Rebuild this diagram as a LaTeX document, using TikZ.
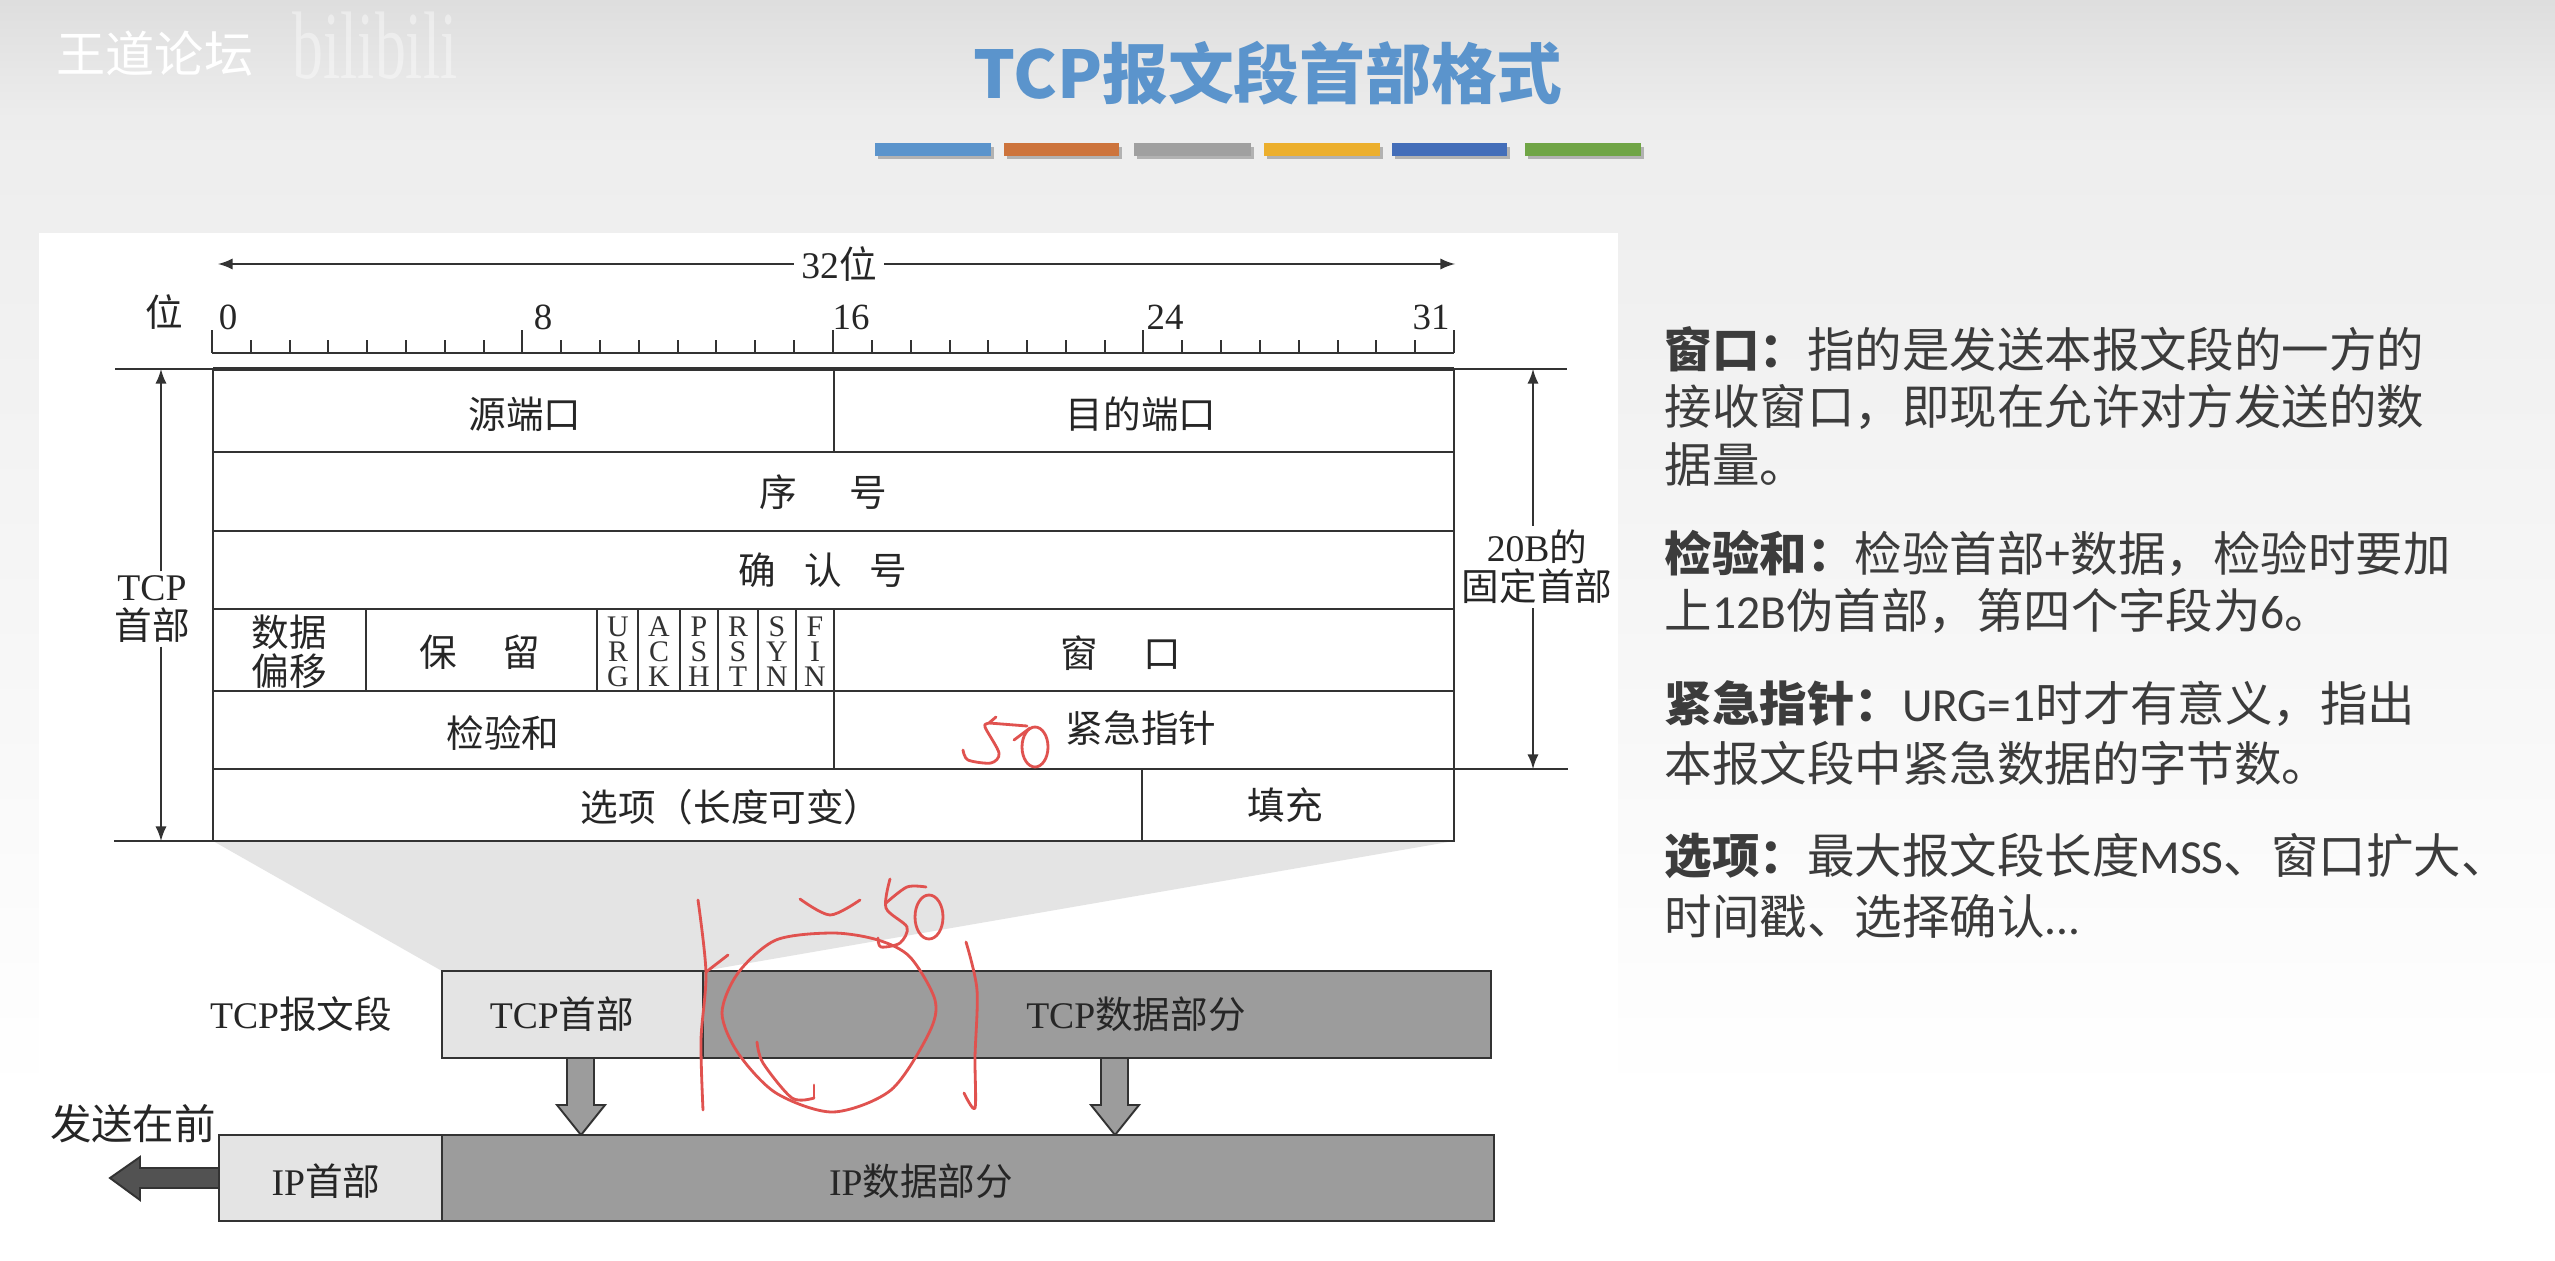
\documentclass[tikz,border=0pt]{standalone}
\usepackage{fontspec}
\usepackage{graphicx}
\setmainfont{Liberation Serif}
\newfontfamily\cjk{Noto Sans CJK SC}
\newfontfamily\slidefont{Carlito}
\definecolor{linegray}{HTML}{333333}
\definecolor{lightcell}{HTML}{E4E4E4}
\definecolor{darkcell}{HTML}{9C9C9C}
\definecolor{titleblue}{HTML}{5B94CC}
\definecolor{slidetext}{HTML}{3C3C3C}
\definecolor{penred}{HTML}{E0524F}
\tikzset{
  thick line/.style={draw=linegray,line width=.8pt},
  thin line/.style={draw=linegray,line width=.55pt},
  dim line/.style={draw=linegray,line width=.45pt,>=latex},
  fig text/.style={text=black!85,inner sep=1pt,align=center,font=\fontsize{10.7}{11}\selectfont},
  flag text/.style={text=black!80,inner sep=0pt,align=center,font=\fontsize{8.5}{7.1}\selectfont},
  ruler text/.style={text=black!85,inner sep=0pt,font=\fontsize{10.5}{11}\selectfont},
  note text/.style={text=slidetext,anchor=west,inner sep=0pt,font=\fontsize{13.5}{16}\cjk},
  pen/.style={draw=penred,line width=.8pt,line cap=round,line join=round},
  bar/.style={line width=0pt,draw=none}
}
\begin{document}
\begin{tikzpicture}[x=.01cm,y=-.01cm]
\useasboundingbox (0,0) rectangle (2555,1261);
% slide background
\shade[top color=black!13,bottom color=black!7] (0,0) rectangle (2555,120);
\shade[top color=black!7,bottom color=white] (0,120) rectangle (2555,1100);
\fill[white] (0,1100) rectangle (2555,1261);
\fill[white] (39,233) rectangle (1618,1261);
% watermark
\node[text=white,inner sep=0pt,font=\fontsize{14}{16}\cjk] (forum) at (155,54) {王道论坛};
\node[text=white,opacity=.4,inner sep=0pt,font=\fontsize{13}{14}\selectfont] (logo) at (375,46) {\scalebox{1.35}[2.1]{bilibili}};
% title and colour bars
\node[text=titleblue,inner sep=0pt,font=\fontsize{18.7}{22}\cjk\bfseries] (title) at (1268,73) {TCP报文段首部格式};
\fill[black!30] (878,147) rectangle (994,159);
\fill[black!30] (1007,147) rectangle (1122,159);
\fill[black!30] (1137,147) rectangle (1254,159);
\fill[black!30] (1267,147) rectangle (1383,159);
\fill[black!30] (1395,147) rectangle (1510,159);
\fill[black!30] (1528,147) rectangle (1644,159);
\draw[bar,fill=titleblue] (875,143) rectangle (991,156);
\draw[bar,fill={rgb,255:red,205;green,116;blue,60}] (1004,143) rectangle (1119,156);
\draw[bar,fill={rgb,255:red,160;green,160;blue,160}] (1134,143) rectangle (1251,156);
\draw[bar,fill={rgb,255:red,236;green,175;blue,45}] (1264,143) rectangle (1380,156);
\draw[bar,fill={rgb,255:red,68;green,110;blue,185}] (1392,143) rectangle (1507,156);
\draw[bar,fill={rgb,255:red,112;green,165;blue,70}] (1525,143) rectangle (1641,156);
% 32 bit dimension
\node[fig text,fill=white,inner sep=2pt] (bits) at (839,264) {32{\cjk 位}};
\coordinate (bitsl) at (218,264);
\coordinate (bitsr) at (1455,264);
\draw[dim line,->] (bits) -- (bitsl);
\draw[dim line,->] (bits) -- (bitsr);
\node[fig text] (wei) at (164,312) {\cjk 位};
% ruler
\draw[thin line] (212,353) -- (1454,353);
\draw[thin line] (212,353) -- (212,330);
\draw[thin line] (522,353) -- (522,330);
\draw[thin line] (833,353) -- (833,330);
\draw[thin line] (1143,353) -- (1143,330);
\draw[thin line] (1454,353) -- (1454,330);
\draw[thin line,line width=.45pt] (251,353) -- (251,340) (290,353) -- (290,340) (328,353) -- (328,340) (367,353) -- (367,340)
  (406,353) -- (406,340) (445,353) -- (445,340) (484,353) -- (484,340) (561,353) -- (561,340) (600,353) -- (600,340)
  (639,353) -- (639,340) (678,353) -- (678,340) (716,353) -- (716,340) (755,353) -- (755,340) (794,353) -- (794,340)
  (872,353) -- (872,340) (911,353) -- (911,340) (950,353) -- (950,340) (988,353) -- (988,340) (1027,353) -- (1027,340)
  (1066,353) -- (1066,340) (1105,353) -- (1105,340) (1182,353) -- (1182,340) (1221,353) -- (1221,340) (1260,353) -- (1260,340)
  (1299,353) -- (1299,340) (1338,353) -- (1338,340) (1376,353) -- (1376,340) (1415,353) -- (1415,340);
\node[ruler text] (bit0) at (228,317) {0};
\node[ruler text] (bit8) at (543,317) {8};
\node[ruler text] (bit16) at (851,317) {16};
\node[ruler text] (bit24) at (1165,317) {24};
\node[ruler text] (bit31) at (1431,317) {31};
% trapezoid between header table and segment
\fill[lightcell] (213,841) -- (442,971) -- (703,971) -- (1454,841) -- cycle;
% header table
\draw[thick line,fill=white] (213,369) rectangle (1454,841);
\draw[thick line,line width=1.1pt] (213,369) -- (1454,369);
\draw[thin line] (213,452) -- (1454,452);
\draw[thin line] (213,531) -- (1454,531);
\draw[thin line] (213,609) -- (1454,609);
\draw[thin line] (213,691) -- (1454,691);
\draw[thin line] (213,769) -- (1454,769);
\draw[thin line] (834,369) -- (834,452);
\draw[thin line] (366,609) -- (366,691);
\draw[thin line] (597,609) -- (597,691);
\draw[thin line] (638,609) -- (638,691);
\draw[thin line] (680,609) -- (680,691);
\draw[thin line] (718,609) -- (718,691);
\draw[thin line] (758,609) -- (758,691);
\draw[thin line] (796,609) -- (796,691);
\draw[thin line] (834,609) -- (834,769);
\draw[thin line] (1142,769) -- (1142,841);
\node[fig text] (srcport) at (525,414) {\cjk 源端口};
\node[fig text] (dstport) at (1141,414) {\cjk 目的端口};
\node[fig text] (seqnum) at (823,492) {\cjk 序\hspace{15pt}号};
\node[fig text] (acknum) at (823,570) {\cjk 确\hspace{8pt}认\hspace{8pt}号};
\node[fig text] (offset) at (289,652) {\cjk 数据\\\cjk 偏移};
\node[fig text] (reserved) at (480,652) {\cjk 保\hspace{13pt}留};
\node[flag text] (urg) at (618,652) {U\\R\\G};
\node[flag text] (ack) at (659,652) {A\\C\\K};
\node[flag text] (psh) at (699,652) {P\\S\\H};
\node[flag text] (rst) at (738,652) {R\\S\\T};
\node[flag text] (syn) at (777,652) {S\\Y\\N};
\node[flag text] (fin) at (815,652) {F\\I\\N};
\node[fig text] (window) at (1121,653) {\cjk 窗\hspace{13pt}口};
\node[fig text] (checksum) at (503,733) {\cjk 检验和};
\node[fig text] (urgent) at (1141,728) {\cjk 紧急指针};
\node[fig text] (options) at (731,807) {\cjk 选项（长度可变）};
\node[fig text] (padding) at (1285,805) {\cjk 填充};
% dimension lines left and right
\draw[dim line] (115,369) -- (213,369);
\draw[dim line] (114,841) -- (213,841);
\draw[dim line] (1454,369) -- (1567,369);
\draw[dim line] (1454,769) -- (1568,769);
\coordinate (dimlt) at (161,369);
\coordinate (dimlb) at (161,841);
\coordinate (dimrt) at (1533,369);
\coordinate (dimrb) at (1533,769);
\node[fig text] (tcphdr) at (152,609) {TCP\\\cjk 首部};
\node[fig text] (fixedhdr) at (1537,567) {20B{\cjk 的}\\\cjk 固定首部};
\draw[dim line,->] (tcphdr.north -| dimlt) -- (dimlt);
\draw[dim line,->] (tcphdr.south -| dimlt) -- (dimlb);
\draw[dim line,->] (fixedhdr.north -| dimrt) -- (dimrt);
\draw[dim line,->] (fixedhdr.south -| dimrt) -- (dimrb);
% tcp segment
\draw[thick line,fill=lightcell] (442,971) rectangle (703,1058);
\draw[thick line,fill=darkcell] (703,971) rectangle (1491,1058);
\node[fig text] (seglab) at (301,1014) {TCP{\cjk 报文段}};
\node[fig text] (seghdr) at (562,1014) {TCP{\cjk 首部}};
\node[fig text] (segdata) at (1136,1014) {TCP{\cjk 数据部分}};
% arrows down to the ip datagram
\draw[thin line,fill=darkcell] (567,1058) -- (594,1058) -- (594,1105) -- (605,1105) -- (581,1135) -- (557,1105) -- (567,1105) -- cycle;
\draw[thin line,fill=darkcell] (1101,1058) -- (1128,1058) -- (1128,1105) -- (1139,1105) -- (1115,1135) -- (1091,1105) -- (1101,1105) -- cycle;
% ip datagram
\draw[thick line,fill=lightcell] (219,1135) rectangle (442,1221);
\draw[thick line,fill=darkcell] (442,1135) rectangle (1494,1221);
\node[fig text] (iphdr) at (326,1181) {IP{\cjk 首部}};
\node[fig text] (ipdata) at (921,1181) {IP{\cjk 数据部分}};
\node[fig text,font=\fontsize{11.8}{13}\selectfont] (sendfirst) at (133,1124) {\cjk 发送在前};
\draw[thin line,fill=black!68] (219,1168) -- (140,1168) -- (140,1157) -- (110,1178) -- (140,1200) -- (140,1188) -- (219,1188) -- cycle;
% notes on the right
\node[note text] (note1a) at (1664,349) {{\bfseries 窗口：}指的是发送本报文段的一方的};
\node[note text] (note1b) at (1664,407) {接收窗口，即现在允许对方发送的数};
\node[note text] (note1c) at (1664,465) {据量。};
\node[note text] (note2a) at (1664,553) {{\bfseries 检验和：}检验首部+数据，检验时要加};
\node[note text] (note2b) at (1664,611) {上{\slidefont 12B}伪首部，第四个字段为{\slidefont 6}。};
\node[note text] (note3a) at (1664,704) {{\bfseries 紧急指针：}{\slidefont URG=1}时才有意义，指出};
\node[note text] (note3b) at (1664,763) {本报文段中紧急数据的字节数。};
\node[note text] (note4a) at (1664,856) {{\bfseries 选项：}最大报文段长度{\slidefont MSS}、窗口扩大、};
\node[note text] (note4b) at (1664,916) {时间戳、选择确认{\slidefont ...}};
% red handwriting
\draw[pen] plot[smooth] coordinates {(996,717) (989,723) (985,727) (999,753) (991,763) (968,760) (963,750)};
\draw[pen] (989,723) -- (1027,726);
\draw[pen] (1035,747) ellipse (13 and 20);
\draw[pen] (1014,740) -- (1030,728);
\draw[pen] plot[smooth cycle] coordinates {(833,933) (776,940) (738,973) (722,1013) (738,1053) (776,1093) (833,1112) (891,1090) (929,1033) (935,1000) (910,957) (878,940)};
\draw[pen] plot[smooth] coordinates {(757,1042) (763,1063) (792,1098) (814,1098)};
\draw[pen] (814,1085) -- (814,1098);
\draw[pen] plot[smooth] coordinates {(698,900) (706,973) (701,1040) (703,1110)};
\draw[pen] (728,955) -- (706,972);
\draw[pen] plot[smooth] coordinates {(800,899) (830,915) (860,900)};
\draw[pen] plot[smooth] coordinates {(890,879) (886,908) (907,927) (900,943) (881,947) (878,938)};
\draw[pen] plot[smooth] coordinates {(886,903) (907,887) (926,887)};
\draw[pen] (929,917) ellipse (14 and 22);
\draw[pen] plot[smooth] coordinates {(966,942) (977,990) (975,1057) (975,1108) (964,1093)};
\end{tikzpicture}
\end{document}
